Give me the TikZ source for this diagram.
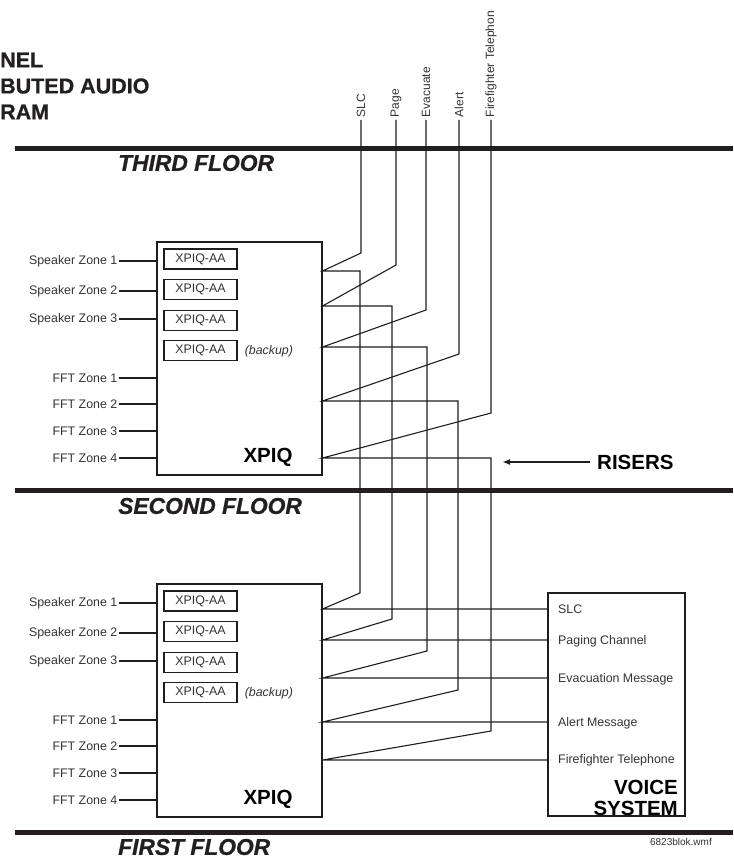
\documentclass[tikz,border=0pt]{standalone}
\usepackage{fontspec}
\setmainfont{Liberation Sans}
\newfontfamily\heavyfont{Liberation Sans}[BoldFeatures={FakeBold=0.9}, BoldItalicFeatures={FakeBold=0.9}]
\usepackage{tikz}
\usetikzlibrary{positioning}
\usetikzlibrary{calc,arrows.meta}
\definecolor{vs-text}{HTML}{333333}
\definecolor{vs-line}{HTML}{1E1E1E}
\definecolor{vs-floor}{HTML}{231F20}

\begin{document}
\begin{tikzpicture}[
    x=1pt, y=-1pt, % pixel grid of the drawing, y going down
    font=\fontsize{12.4}{14}\selectfont,
    text=vs-text,
    >={Latex[length=8pt, width=6pt]}
  ]
  \useasboundingbox (0,0) rectangle (733,858);

  % Styles
  \tikzset{
    wire/.style={draw=vs-line, line width=1.1pt},
    floor/.style={draw=vs-floor, line width=5pt},
    floorname/.style={font=\heavyfont\fontsize{22.8}{24}\selectfont\bfseries\itshape, text=vs-floor, anchor=west, inner sep=0pt},
    title/.style={font=\heavyfont\fontsize{21.5}{24}\selectfont\bfseries, text=vs-floor, anchor=west, inner sep=0pt},
    unit/.style={draw=vs-line, line width=1.1pt, minimum width=165pt, minimum height=233pt, inner sep=0pt},
    card/.style={draw=vs-line, line width=1.1pt, minimum width=73pt, minimum height=20pt, inner sep=0pt},
    zone/.style={anchor=east, inner sep=1.5pt},
    big/.style={font=\fontsize{20.5}{21}\selectfont\bfseries, text=black, inner sep=0pt},
    signal/.style={rotate=90, anchor=west, inner sep=2.5pt, font=\fontsize{12}{14}\selectfont}
  }

  % Title (cut off at the left edge)
  \node (ttl1) [title] at (0,60) {NEL};
  \node (ttl2) [title] at (0,86) {BUTED AUDIO};
  \node (ttl3) [title] at (0,112) {RAM};

  % Floors
  \draw[floor] (15,149) -- (733,149);
  \node (third) [floorname] at (118,163) {THIRD FLOOR};
  \draw[floor] (15,490) -- (733,490);
  \node (second) [floorname] at (118,506) {SECOND FLOOR};
  \draw[floor] (15,832) -- (733,832);
  \node (first) [floorname] at (118,847) {FIRST FLOOR};

  % XPIQ units on the third and second floor
  \node (xpiqU) [unit] at (239.5,358.5) {};
  \node (xpiqL) [unit] at (239.5,700.5) {};
  \node (nameU) [big] at (268,457) {XPIQ};
  \node (nameL) [big] at (268,799) {XPIQ};

  \foreach \f/\dy in {U/0, L/342} {
    \node (card\f1) [card] at (200.5,259+\dy) {XPIQ-AA};
    \node (card\f2) [card, below=9.5pt of card\f1] {XPIQ-AA};
    \node (card\f3) [card, below=9.5pt of card\f2] {XPIQ-AA};
    \node (card\f4) [card, below=9.5pt of card\f3] {XPIQ-AA};
    \node (bkp\f) [right=6pt of card\f4, inner sep=1pt] {\itshape (backup)};
    \foreach \n/\y in {1/261, 2/291, 3/319} {
      \node (spk\f\n) [zone] at (119,\y+\dy) {Speaker Zone \n};
      \draw[wire] (spk\f\n.east) -- (spk\f\n.east -| xpiq\f.west);
    }
    \foreach \n/\y in {1/378, 2/404, 3/431, 4/458} {
      \node (fft\f\n) [zone] at (119,\y+\dy) {FFT Zone \n};
      \draw[wire] (fft\f\n.east) -- (fft\f\n.east -| xpiq\f.west);
    }
  }

  % Voice system
  \node (voice) [draw=vs-line, line width=1.1pt, minimum width=137pt, minimum height=223pt, inner sep=0pt] at (616.5,704.5) {};
  \foreach \n/\t/\y in {1/SLC/609, 2/Paging Channel/641, 3/Evacuation Message/679, 4/Alert Message/723, 5/Firefighter Telephone/760}
    \node (in\n) [anchor=west, inner sep=0pt] at (558,\y) {\t};
  \node (vsys) [big, align=right, anchor=east] at (678,797.5) {VOICE\\SYSTEM};

  % Risers
  \foreach \s/\txt/\tx/\ta/\ey/\rx/\rb/\fy in {
      1/SLC/361/253/271/360/593/609,
      2/Page/396/265/306/392/619/640,
      3/Evacuate/426/310/347/427/651/678,
      4/Alert/459/354/401/458/690/722,
      5/Firefighter Telephon/491/413/458/491/731/760} {
    \node (sig\s) [signal] at (\tx,120) {\txt};
    \coordinate (portU\s) at (xpiqU.east |- 0,\ey);
    \coordinate (portL\s) at (xpiqL.east |- 0,\fy);
    \draw[wire] (sig\s.west) -- (\tx,\ta) -- (portU\s) -| (\rx,\rb) -- (portL\s) -- (voice.west |- portL\s);
  }

  \node (risers) [big, anchor=west] at (597,462) {RISERS};
  \coordinate (riserTip) at (502,462);
  \draw[->, vs-floor, line width=1.8pt, shorten <=7pt] (risers.west) -- (riserTip);

  \node (fname) [anchor=east, inner sep=0pt, font=\fontsize{10}{12}\selectfont] at (712,842) {6823blok.wmf};

\end{tikzpicture}
\end{document}
